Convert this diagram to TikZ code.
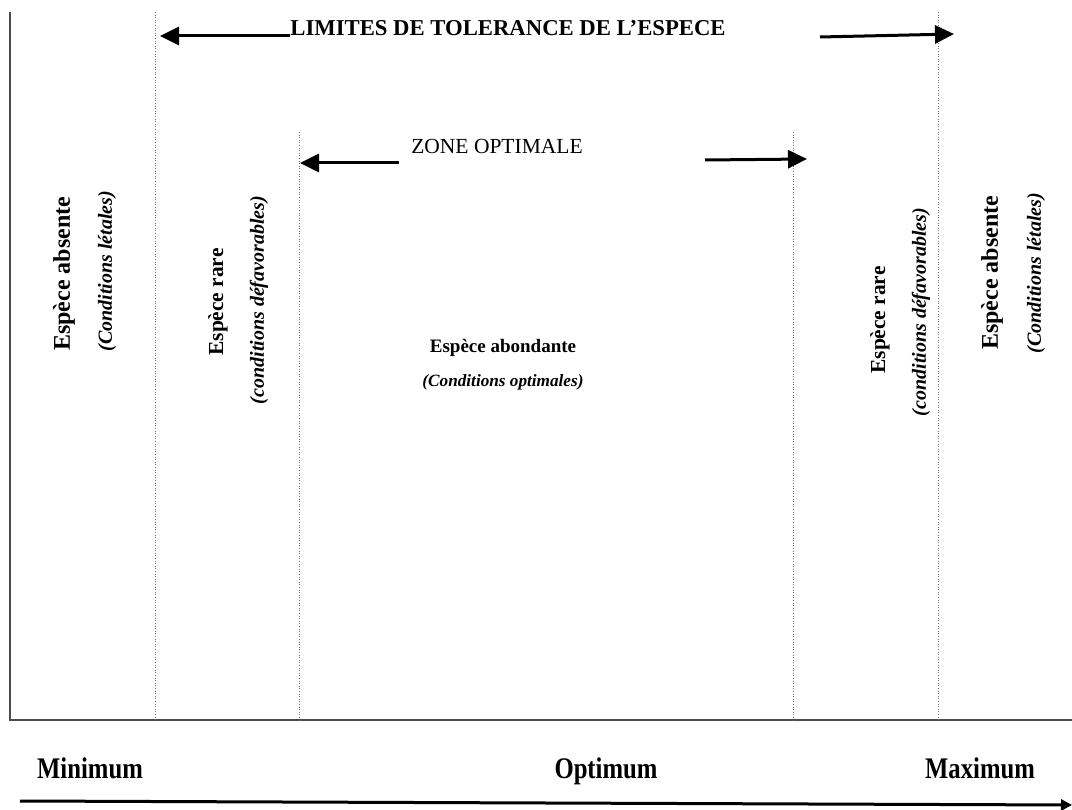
\documentclass[tikz,border=0pt]{standalone}
\usepackage{fontspec}
\setmainfont{Liberation Serif}
\usetikzlibrary{arrows.meta}
\begin{document}
\begin{tikzpicture}[x=1pt,y=-1pt,
  axisline/.style={draw=black!70,line width=1.6pt},
  zoneline/.style={draw=black!55,line width=0.6pt,dotted},
  bigarrow/.style={line width=3pt,-{Triangle[length=19pt,width=18pt]}},
  axisarrow/.style={line width=3pt,-{Triangle[length=11pt,width=11pt]}},
  vlabel/.style={rotate=90,inner sep=0pt,font=\fontsize{24}{27}\selectfont\bfseries},
  vsub/.style={rotate=90,inner sep=0pt,font=\fontsize{20}{23}\selectfont\bfseries\itshape},
  lbl/.style={inner sep=0pt,anchor=base,font=\fontsize{26}{30}\selectfont\bfseries}]
\useasboundingbox (0,0) rectangle (1072,810);
% axes
\coordinate (o) at (10,720);
\coordinate (ytop) at (10,12);
\coordinate (xend) at (1072,720);
\draw[axisline] (ytop) -- (o) -- (xend);
% zone limits
\coordinate (l1t) at (155,12); \coordinate (l1b) at (155,720);
\coordinate (l2t) at (299,132); \coordinate (l2b) at (299,720);
\coordinate (l3t) at (793,132); \coordinate (l3b) at (793,720);
\coordinate (l4t) at (938,12); \coordinate (l4b) at (938,720);
\draw[zoneline] (l1t) -- (l1b);
\draw[zoneline] (l2t) -- (l2b);
\draw[zoneline] (l3t) -- (l3b);
\draw[zoneline] (l4t) -- (l4b);
% tolerance limits
\node[inner sep=0pt,font=\fontsize{22.7}{26}\selectfont\bfseries] (tol) at (508,28) {LIMITES DE TOLERANCE DE L’ESPECE};
\coordinate (ta1) at (290,36); \coordinate (ta2) at (160,36);
\coordinate (tb1) at (820,37); \coordinate (tb2) at (954,34);
\draw[bigarrow] (ta1) -- (ta2);
\draw[bigarrow] (tb1) -- (tb2);
% optimal zone
\node[inner sep=0pt,font=\fontsize{21.5}{24}\selectfont] (zo) at (497,146) {ZONE OPTIMALE};
\coordinate (za1) at (399,163); \coordinate (za2) at (300,163);
\coordinate (zb1) at (705,160); \coordinate (zb2) at (807,159);
\draw[bigarrow] (za1) -- (za2);
\draw[bigarrow] (zb1) -- (zb2);
% vertical labels
\node[vlabel] (abs1) at (64,274) {Espèce absente};
\node[vsub] (let1) at (107,271) {(Conditions létales)};
\node[vlabel,font=\fontsize{21.4}{24}\selectfont\bfseries] (rare1) at (218,302) {Espèce rare};
\node[vsub] (def1) at (259,300) {(conditions défavorables)};
\node[vlabel,font=\fontsize{21.4}{24}\selectfont\bfseries] (rare2) at (880,320) {Espèce rare};
\node[vsub] (def2) at (921,312) {(conditions défavorables)};
\node[vlabel] (abs2) at (992,273) {Espèce absente};
\node[vsub] (let2) at (1036,273) {(Conditions létales)};
% centre
\node[inner sep=0pt,font=\fontsize{19}{22}\selectfont\bfseries] (abond) at (503,348) {Espèce abondante};
\node[inner sep=0pt,font=\fontsize{17.2}{20}\selectfont\bfseries\itshape] (opt) at (503,382) {(Conditions optimales)};
% gradient axis
\node[lbl] (min) at (90,778) {\scalebox{0.95}[1.15]{Minimum}};
\node[lbl] (optm) at (606,778) {\scalebox{0.95}[1.15]{Optimum}};
\node[lbl] (max) at (980,778) {\scalebox{0.95}[1.15]{Maximum}};
\coordinate (g1) at (20,801); \coordinate (g2) at (1072,805);
\draw[axisarrow] (g1) -- (g2);
\end{tikzpicture}
\end{document}
